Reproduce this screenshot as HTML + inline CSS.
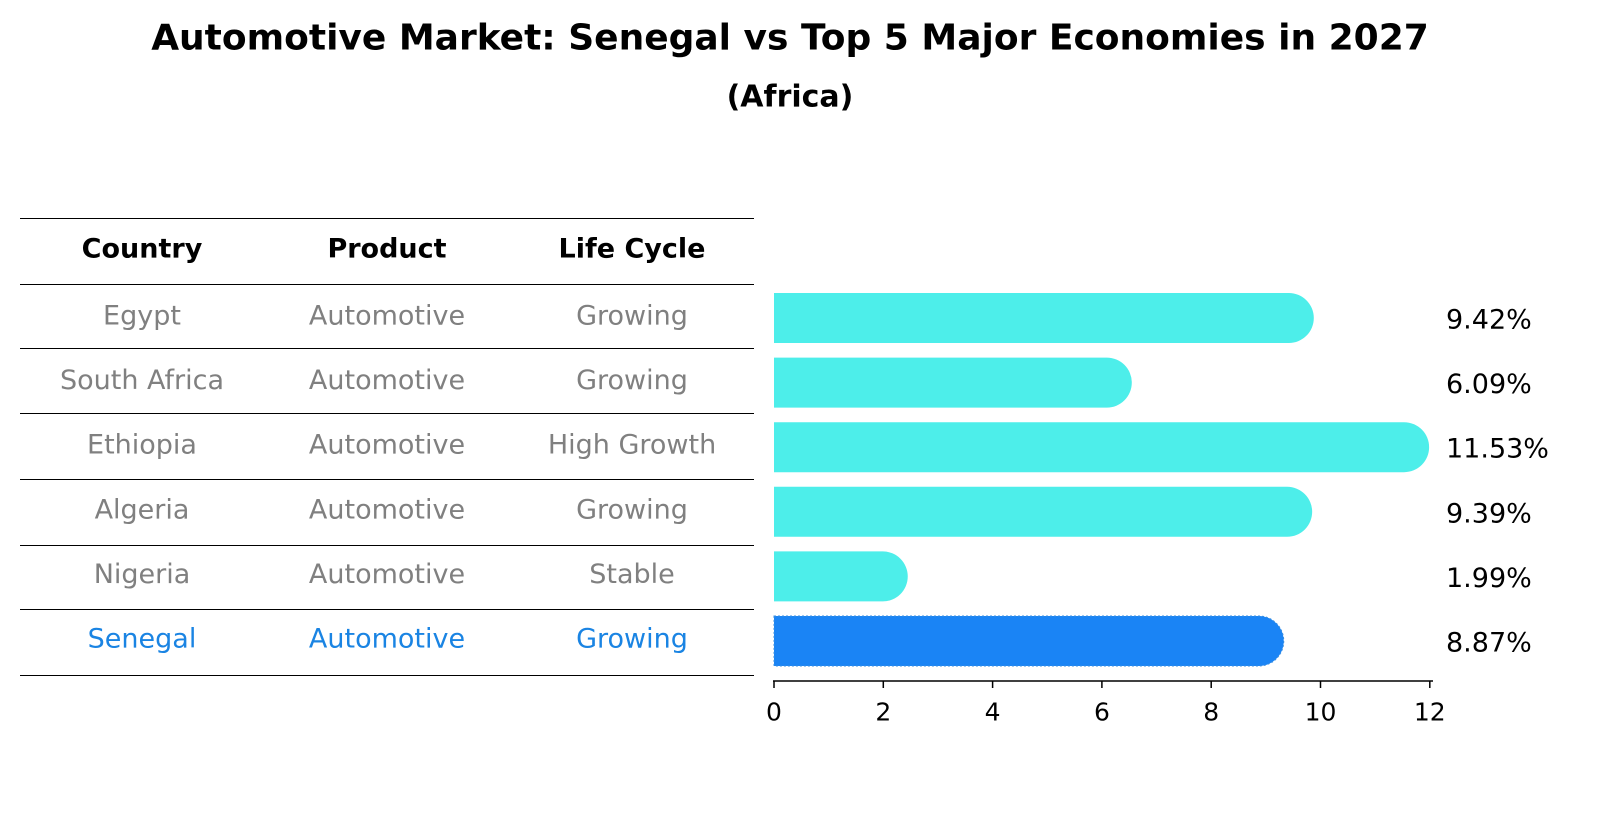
<!DOCTYPE html>
<html><head><meta charset="utf-8"><style>
body{margin:0;background:#fff;width:1604px;height:823px;overflow:hidden;font-family:"Liberation Sans","DejaVu Sans",sans-serif}
</style></head><body>
<svg width="1604" height="823" font-family="DejaVu Sans, Liberation Sans, sans-serif">
<text x="790" y="38" text-anchor="middle" dominant-baseline="central" font-size="36" font-weight="bold">Automotive Market: Senegal vs Top 5 Major Economies in 2027</text>
<text x="790" y="97" text-anchor="middle" dominant-baseline="central" font-size="30" font-weight="bold">(Africa)</text>
<g id="table"></g>
<g id="bars"></g>
</svg>
<script>
const countries=["Egypt","South Africa","Ethiopia","Algeria","Nigeria","Senegal"];
const products=["Automotive","Automotive","Automotive","Automotive","Automotive","Automotive"];
const lifecycle=["Growing","Growing","High Growth","Growing","Stable","Growing"];
const values=[9.42,6.09,11.53,9.39,1.99,8.87];
const valueLabels=["9.42%","6.09%","11.53%","9.39%","1.99%","8.87%"];
const ticks=[0,2,4,6,8,10,12];
const NS="http://www.w3.org/2000/svg";
function mk(t,a,p){const e=document.createElementNS(NS,t);for(const k in a)e.setAttribute(k,a[k]);p.appendChild(e);return e;}
const tbl=document.getElementById('table'),bg=document.getElementById('bars');
const x=v=>774+v*54.65;
const rowY=i=>316+i*64.6;
const lines=[218,284,348,413,479,545,609,675];
lines.forEach(y=>{const l=mk('line',{x1:20,x2:754,y1:y+0.5,y2:y+0.5,stroke:'#000','stroke-width':1},tbl);

});
const cx=[142,387,632];
["Country","Product","Life Cycle"].forEach((h,j)=>{const t=mk('text',{x:cx[j],y:249,'text-anchor':'middle','dominant-baseline':'central','font-size':27,'font-weight':'bold'},tbl);t.textContent=h;

});
countries.forEach((c,i)=>{const col=i===5?'#1a84e3':'#808080';
[c,products[i],lifecycle[i]].forEach((s,j)=>{const t=mk('text',{x:cx[j],y:rowY(i),'text-anchor':'middle','dominant-baseline':'central','font-size':27,fill:col},tbl);t.textContent=s;

});
const y=rowY(i)+2,h=50,r=25,x0=x(0),x1=x(values[i]);
const p=mk('path',{d:`M${x0},${y-r}H${x1}A${r},${r} 0 0 1 ${x1},${y+r}H${x0}Z`,fill:i===5?'#1a84f5':'#4deeea'},bg);
if(i===5){p.setAttribute('stroke','#3b8fe0');p.setAttribute('stroke-dasharray','2 2');}


const t=mk('text',{x:1446,y:y+2,'dominant-baseline':'central','font-size':27},bg);t.textContent=valueLabels[i];


});
const ax=mk('line',{x1:773,x2:1433,y1:681,y2:681,stroke:'#000','stroke-width':1.5},bg);


ticks.forEach(v=>{const l=mk('line',{x1:x(v),x2:x(v),y1:681,y2:688,stroke:'#000','stroke-width':1.5},bg);


const t=mk('text',{x:x(v),y:712,'text-anchor':'middle','dominant-baseline':'central','font-size':25},bg);t.textContent=v;

});
</script>
</body></html>
